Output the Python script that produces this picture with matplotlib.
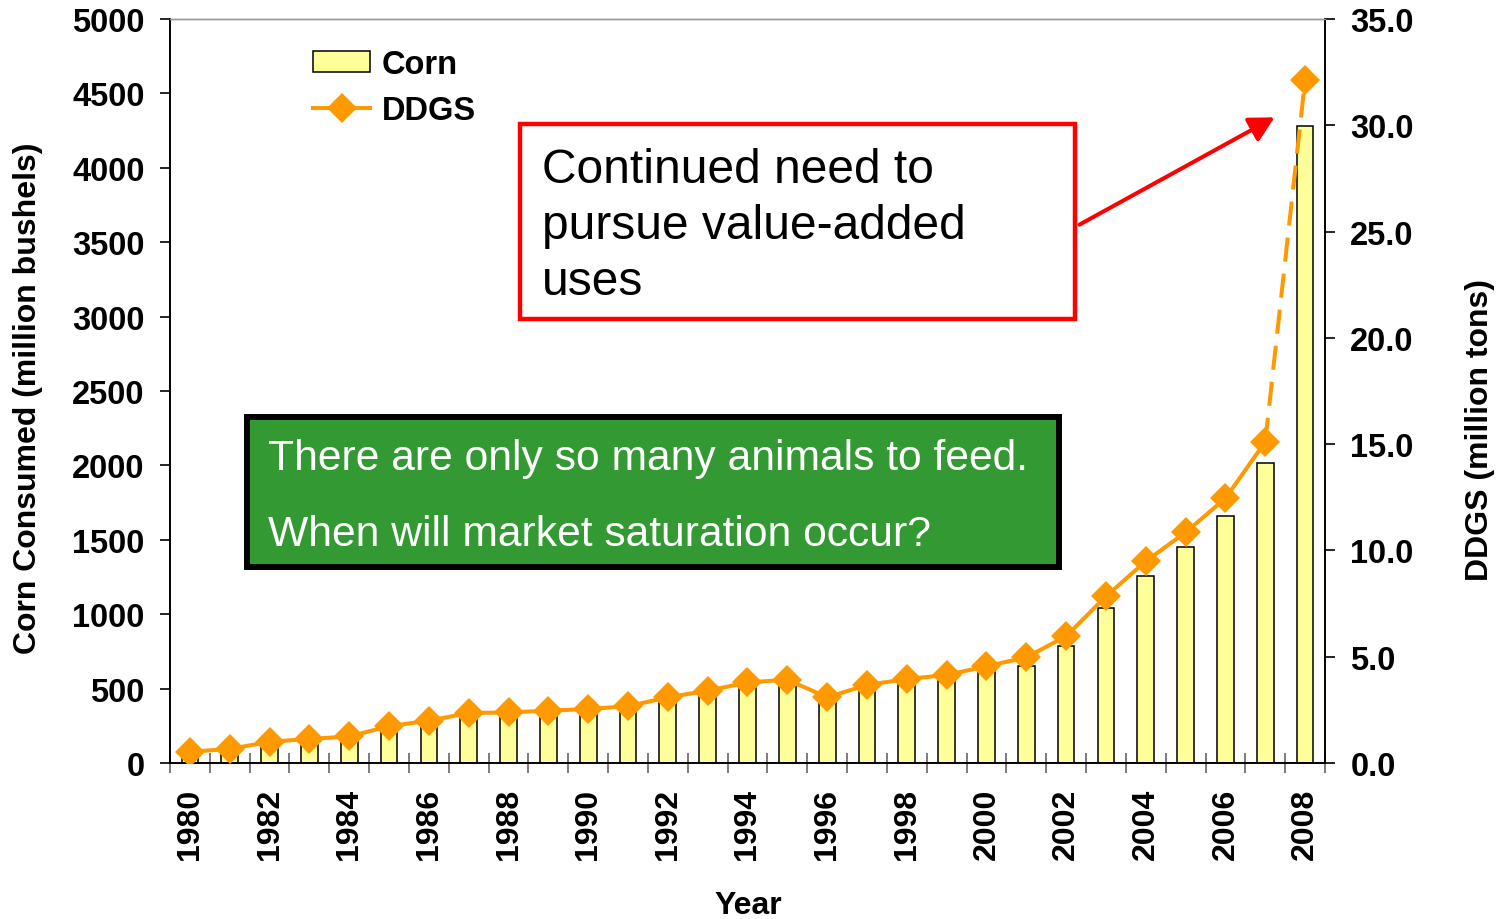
import matplotlib
matplotlib.use("Agg")
import matplotlib.pyplot as plt
import numpy as np
from matplotlib.patches import Rectangle, FancyArrowPatch
from matplotlib.lines import Line2D

plt.rcParams['font.family'] = ['Liberation Sans', 'DejaVu Sans']

# Corn used for ethanol and resulting DDGS output, 1980-2008
years = list(range(1980, 2009))
corn_bushels = [60, 75, 116, 139, 161, 217, 262, 307, 318, 329,
                341, 358, 412, 452, 504, 524, 412, 486, 524, 551,
                609, 654, 788, 1040, 1259, 1452, 1662, 2016, 4283]
ddgs_tons = [0.53, 0.66, 1.00, 1.13, 1.25, 1.73, 1.99, 2.35, 2.38, 2.46,
             2.54, 2.67, 3.09, 3.40, 3.79, 3.92, 3.09, 3.67, 3.95, 4.14,
             4.55, 4.97, 5.96, 7.84, 9.49, 10.85, 12.45, 15.11, 32.13]

left_ticks = list(range(0, 5001, 500))
right_ticks = [0, 5, 10, 15, 20, 25, 30, 35]

W, H = 1506, 920
BAR_FILL = '#FFFF99'
LINE_COL = '#FF9900'
MS = 15


def fx(px):
    return px / W


def fy(py):
    return 1 - py / H


fig = plt.figure(figsize=(W / 100, H / 100), dpi=100)
ax = fig.add_axes([fx(170), fy(764), fx(1325) - fx(170), fy(20) - fy(764)])
ax2 = ax.twinx()

idx = np.arange(len(years))

# bars: corn consumed
ax.bar(idx, corn_bushels, width=0.42, color=BAR_FILL, edgecolor='black',
       linewidth=1.1, zorder=2)
ax.set_xlim(-0.5, len(years) - 0.5)
ax.set_ylim(0, 5000)
ax.set_yticks(left_ticks)
ax.set_yticklabels([str(v) for v in left_ticks])

# line: DDGS, with the last (projected) step dashed
ax2.plot(idx[:-1], ddgs_tons[:-1], color=LINE_COL, lw=2.9, marker='D',
         markersize=MS, markeredgewidth=0, zorder=3)
ax2.plot(idx[-2:], ddgs_tons[-2:], color=LINE_COL, lw=2.9,
         linestyle=(0, (6, 3)), zorder=3)
ax2.plot(idx[-1:], ddgs_tons[-1:], color=LINE_COL, lw=0, marker='D',
         markersize=MS, markeredgewidth=0, zorder=3)
ax2.set_ylim(0, 35)
ax2.set_yticks(right_ticks)
ax2.set_yticklabels([f'{v:.1f}' for v in right_ticks])
ax2.set_xlim(-0.5, len(years) - 0.5)

# x axis: labels every other year, tick marks between categories
ax.set_xticks(idx[::2])
ax.set_xticklabels([str(y) for y in years[::2]], rotation=90,
                   fontsize=23, fontweight='bold')
ax.set_xticks(np.arange(-0.5, len(years), 1), minor=True)
ax.tick_params(axis='x', which='major', length=0, pad=18)
ax.tick_params(axis='x', which='minor', direction='inout', length=14,
               width=1.2, color='#666666')

ax.tick_params(axis='y', length=7.2, width=1.2, pad=11,
               labelsize=23.5)
ax2.tick_params(axis='y', length=7.2, width=1.2, pad=11,
                labelsize=23.5)
for lab in ax.get_yticklabels() + ax2.get_yticklabels():
    lab.set_fontweight('bold')

for a in (ax, ax2):
    for side in ('left', 'right', 'bottom'):
        a.spines[side].set_color('black')
        a.spines[side].set_linewidth(1.2)
    a.spines['top'].set_color('#999999')
    a.spines['top'].set_linewidth(1.0)

# axis titles
fig.text(fx(28), fy(398), 'Corn Consumed (million bushels)', rotation=90,
         ha='center', va='center', fontsize=23, fontweight='bold')
fig.text(fx(1480), fy(430), 'DDGS (million tons)', rotation=90,
         ha='center', va='center', fontsize=23, fontweight='bold')
fig.text(fx(748), fy(906), 'Year', ha='center', va='center',
         fontsize=23, fontweight='bold')

# legend
handles = [Rectangle((0, 0), 1, 1, facecolor=BAR_FILL, edgecolor='black',
                     linewidth=1.1),
           Line2D([0], [0], color=LINE_COL, lw=2.9, marker='D',
                  markersize=MS, markeredgewidth=0)]
leg = ax.legend(handles, ['Corn', 'DDGS'], loc='upper left',
                bbox_to_anchor=(fx(313), fy(50)),
                bbox_transform=fig.transFigure, frameon=False,
                borderpad=0, borderaxespad=0, handlelength=1.75,
                handleheight=0.65, handletextpad=0.35, labelspacing=0.47,
                prop={'size': 23.5, 'weight': 'bold'})
leg.set_zorder(10)

# red call-out box with arrow
fig.add_artist(Rectangle((fx(520), fy(320)), fx(1075) - fx(520),
                         fy(125) - fy(320), transform=fig.transFigure,
                         facecolor='white', edgecolor='#FF0000',
                         linewidth=3.2, zorder=20))
for text, base in (('Continued need to', 183), ('pursue value-added', 239),
                   ('uses', 295)):
    fig.text(fx(542), fy(base), text, ha='left', va='baseline',
             fontsize=34.5, color='black', zorder=21)
fig.add_artist(FancyArrowPatch((fx(1077), fy(227)), (fx(1277), fy(117)),
                               transform=fig.transFigure,
                               arrowstyle='-|>,head_length=15,head_width=8',
                               mutation_scale=1, color='#FF0000',
                               linewidth=2.9, zorder=20))

# green note box
fig.add_artist(Rectangle((fx(247), fy(568)), fx(1059) - fx(247),
                         fy(418) - fy(568), transform=fig.transFigure,
                         facecolor='#339933', edgecolor='black',
                         linewidth=4.3, zorder=20))
fig.text(fx(268), fy(470), 'There are only so many animals to feed.',
         ha='left', va='baseline', fontsize=30.7, color='white', zorder=21)
fig.text(fx(268), fy(546), 'When will market saturation occur?',
         ha='left', va='baseline', fontsize=30.7, color='white', zorder=21)

fig.savefig('out.png', dpi=100)
